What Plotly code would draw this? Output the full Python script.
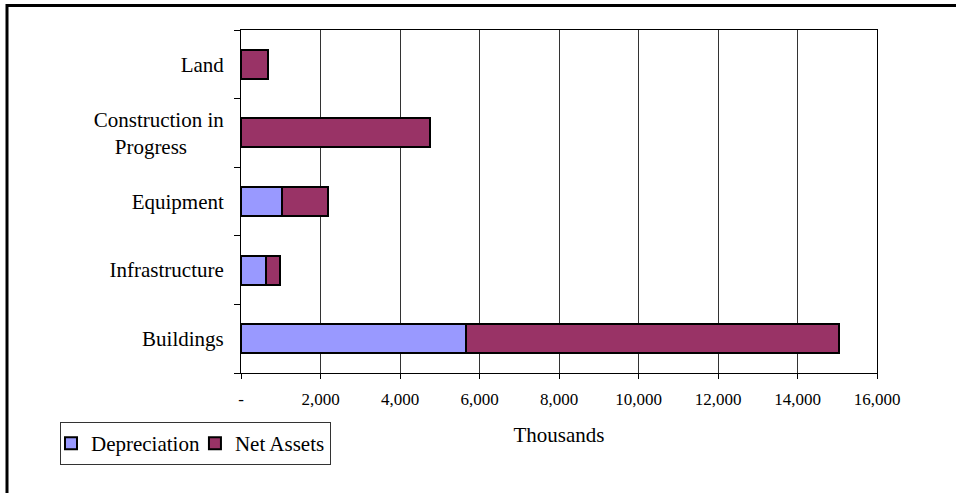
import plotly.graph_objects as go

categories = ["Buildings", "Infrastructure", "Equipment",
              "Construction in<br>Progress\u00a0\u00a0\u00a0\u00a0\u00a0\u00a0\u00a0", "Land"]
depreciation = [5650, 640, 1040, None, None]
net_assets = [9400, 340, 1140, 4750, 690]
x_tickvals = [0, 2000, 4000, 6000, 8000, 10000, 12000, 14000, 16000]
x_ticktext = ["-", "2,000", "4,000", "6,000", "8,000", "10,000", "12,000", "14,000", "16,000"]

FONT = "Liberation Serif, Times New Roman, Times, serif"

fig = go.Figure()
fig.add_trace(go.Bar(
    y=categories, x=depreciation, name="Depreciation", orientation="h",
    marker=dict(color="#9999FF", line=dict(color="black", width=2)),
))
fig.add_trace(go.Bar(
    y=categories, x=net_assets, name="Net Assets", orientation="h",
    marker=dict(color="#993366", line=dict(color="black", width=2)),
))

# plot area: x 241..877, y 30..373
L, R, T, B = 241, 877, 30, 373
W, H = R - L, B - T
def px_x(p):
    return (p - L) / W
def px_y(p):
    return (B - p) / H

fig.update_layout(
    width=956, height=493,
    margin=dict(l=L, r=956 - R, t=T, b=493 - B),
    barmode="stack", bargap=0.58,
    paper_bgcolor="white", plot_bgcolor="white",
    font=dict(family=FONT, color="black", size=21),
    showlegend=True,
    legend=dict(
        orientation="h", x=px_x(60), y=px_y(422), xanchor="left", yanchor="top",
        bordercolor="#333333", borderwidth=1, bgcolor="white",
        font=dict(family=FONT, size=21, color="black"),
        itemwidth=30, tracegroupgap=0, traceorder="normal",
        indentation=-10,
    ),
    xaxis=dict(
        range=[0, 16000], tickvals=x_tickvals, ticktext=x_ticktext,
        showgrid=True, gridcolor="#333333", gridwidth=1,
        showline=True, linecolor="black", linewidth=1, mirror=True,
        ticks="outside", ticklen=5, tickcolor="black",
        tickfont=dict(family=FONT, size=17, color="black"),
        ticklabelstandoff=6,
        title=dict(text="Thousands", font=dict(family=FONT, size=21, color="black"), standoff=18),
        zeroline=False, fixedrange=True,
    ),
    yaxis=dict(
        type="category", tickson="boundaries",
        showgrid=False, showline=True, linecolor="black", linewidth=1, mirror=True,
        ticks="outside", ticklen=6, tickcolor="black",
        tickfont=dict(family=FONT, size=21, color="black"),
        ticklabelstandoff=12,
    ),
    shapes=[dict(
        type="rect", xref="paper", yref="paper",
        x0=px_x(7), x1=px_x(990), y0=px_y(520), y1=px_y(5.5),
        line=dict(color="black", width=3), fillcolor="rgba(0,0,0,0)", layer="above",
    )],
)

fig.write_html("out.html")
